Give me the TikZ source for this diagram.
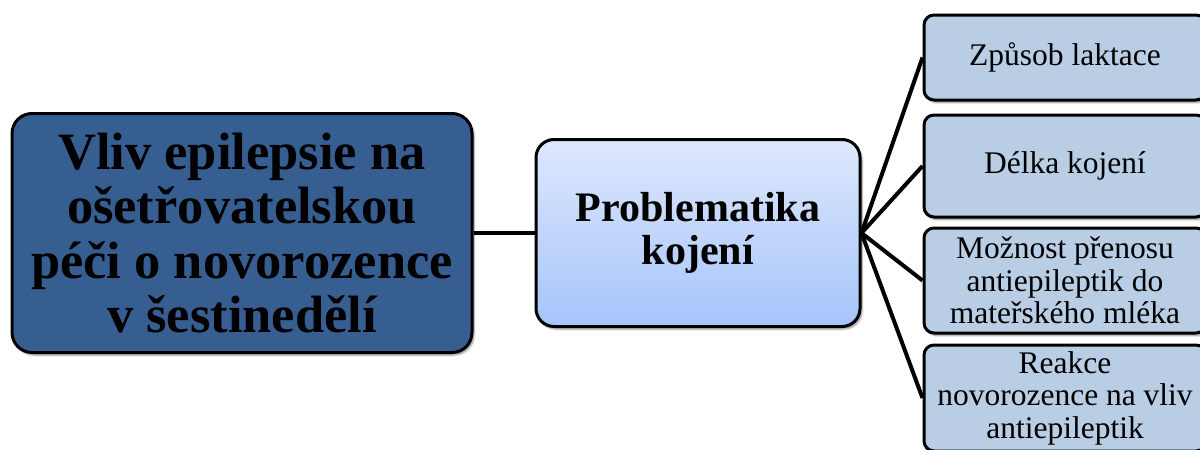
\documentclass[tikz,border=0pt]{standalone}
\usepackage{fontspec}
\setmainfont{Liberation Serif}
\usetikzlibrary{shadows.blur}
\definecolor{topicblue}{RGB}{54,94,145}
\definecolor{midtop}{RGB}{222,232,252}
\definecolor{midbottom}{RGB}{166,196,250}
\definecolor{leafblue}{RGB}{185,205,229}
\tikzset{
  boxbase/.style={rectangle, draw=black, line width=3pt, align=center,
    inner sep=0pt, text=black,
    blur shadow={shadow xshift=2pt, shadow yshift=-2.5pt, shadow blur steps=6, shadow opacity=45}},
  topicbox/.style={boxbase, fill=topicblue, rounded corners=20pt,
    minimum width=460pt, minimum height=239pt,
    font=\fontsize{52.5}{54.5}\selectfont\bfseries},
  themebox/.style={boxbase, top color=midtop, bottom color=midbottom, rounded corners=18pt,
    minimum width=324pt, minimum height=187pt,
    font=\fontsize{42}{43}\selectfont\bfseries},
  leafbox/.style={boxbase, fill=leafblue, rounded corners=10pt,
    minimum width=282pt, font=\fontsize{31.5}{32.5}\selectfont},
  link/.style={draw=black, line width=4pt}
}
\begin{document}
\begin{tikzpicture}[x=1pt,y=-1pt]
  \useasboundingbox (0,0) rectangle (1200,450);
  \clip (0,0) rectangle (1200,450);
  % main topic
  \node[topicbox] (topic) at (242,233)
    {Vliv epilepsie na\\ošetřovatelskou\\péči o novorozence\\v šestinedělí};
  % breastfeeding theme
  \node[themebox] (theme) at (698,233) {Problematika\\kojení};
  % leaf items
  \node[leafbox, minimum height=85pt] (lactation) at (1065,57.5) {Způsob laktace};
  \node[leafbox, minimum height=102pt] (duration) at (1065,166) {Délka kojení};
  \node[leafbox, minimum height=105pt] (transfer) at (1065,280.5)
    {Možnost přenosu\\antiepileptik do\\mateřského mléka};
  \node[leafbox, minimum height=106pt] (reaction) at (1065,398)
    {Reakce\\novorozence na vliv\\antiepileptik};
  % connectors
  \draw[link] (topic.east) -- (theme.west);
  \foreach \leaf in {lactation,duration,transfer,reaction}
    \draw[link] (theme.east) -- (\leaf.west);
\end{tikzpicture}
\end{document}
